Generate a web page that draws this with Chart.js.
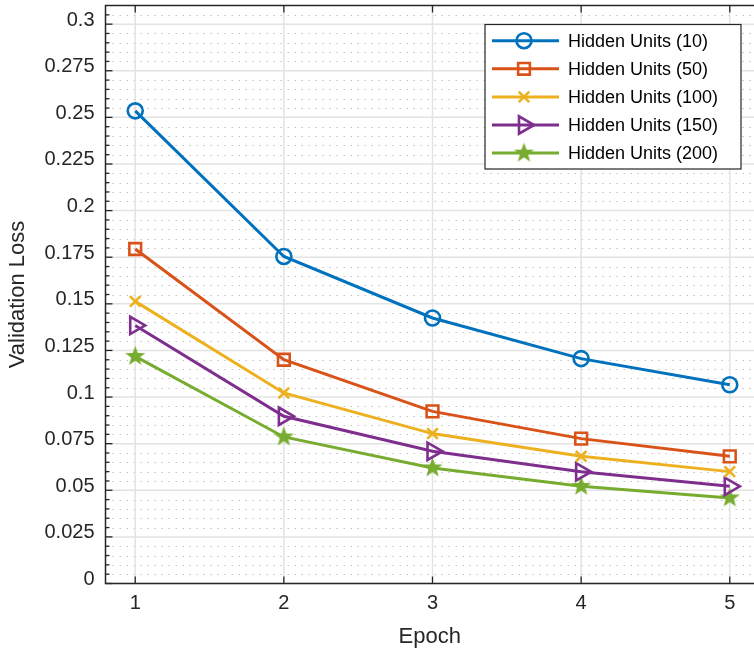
<!DOCTYPE html>
<html>
<head>
<meta charset="utf-8">
<script src="https://cdn.jsdelivr.net/npm/chart.js@4.4.1/dist/chart.umd.min.js"></script>
<style>
  html, body { margin: 0; padding: 0; background: #fff; overflow: hidden; }
  #wrap { width: 754px; height: 651px; position: relative; }
</style>
</head>
<body>
<div id="wrap"><canvas id="lossChart"></canvas></div>
<script>
// values
const epochs = [1, 2, 3, 4, 5];
const units10 = [0.2535, 0.1754, 0.1424, 0.1206, 0.1066];
const units50 = [0.1794, 0.1200, 0.0923, 0.0777, 0.0682];
const units100 = [0.1513, 0.1022, 0.0804, 0.0682, 0.0600];
const units150 = [0.1384, 0.0897, 0.0709, 0.0599, 0.0521];
const units200 = [0.1218, 0.0786, 0.0620, 0.0521, 0.0459];
const seriesLabels = ['Hidden Units (10)', 'Hidden Units (50)', 'Hidden Units (100)', 'Hidden Units (150)', 'Hidden Units (200)'];
const yTicks = [0, 0.025, 0.05, 0.075, 0.1, 0.125, 0.15, 0.175, 0.2, 0.225, 0.25, 0.275, 0.3];
const xTicks = [1, 2, 3, 4, 5];

const FONT = '"Liberation Sans", Arial, Helvetica, sans-serif';
const INK = '#262626';

// filled star marker (Chart.js 'star' is only an asterisk)
function makeStar(color, outer, inner) {
    const c = document.createElement('canvas');
    const s = Math.ceil(outer * 2 + 2);
    c.width = s; c.height = s;
    const g = c.getContext('2d');
    g.fillStyle = color;
    g.beginPath();
    for (let i = 0; i < 10; i++) {
        const r = i % 2 === 0 ? outer : inner;
        const a = -Math.PI / 2 + i * Math.PI / 5;
        const px = s / 2 + r * Math.cos(a), py = s / 2 + r * Math.sin(a);
        if (i === 0) g.moveTo(px, py); else g.lineTo(px, py);
    }
    g.closePath();
    g.fill();
    return c;
}

const starImg = makeStar('#77AC30', 10.5, 4.3);

const styles = [
    { color: '#0072BD', pointStyle: 'circle', radius: 7.5, rotation: 0 },
    { color: '#D95319', pointStyle: 'rect', radius: 8.3, rotation: 0 },
    { color: '#EDB120', pointStyle: 'crossRot', radius: 7.5, rotation: 0 },
    { color: '#7E2F8E', pointStyle: 'triangle', radius: 10, rotation: 90 },
    { color: '#77AC30', pointStyle: starImg, radius: 10, rotation: 0 }
];

const allSeries = [units10, units50, units100, units150, units200];

const datasets = allSeries.map(function (vals, i) {
    const st = styles[i];
    return {
        label: seriesLabels[i],
        data: epochs.map(function (e, j) { return { x: e, y: vals[j] }; }),
        borderColor: st.color,
        borderWidth: 3,
        pointStyle: st.pointStyle,
        pointRadius: st.radius,
        pointHoverRadius: st.radius,
        pointRotation: st.rotation,
        pointBorderColor: st.color,
        pointBackgroundColor: 'rgba(0,0,0,0)',
        pointBorderWidth: 2.6,
        tension: 0
    };
});

// grid, box, inward ticks and a matlab-like legend
const matlabAxes = {
    id: 'matlabAxes',
    beforeDatasetsDraw(chart) {
        const { ctx, chartArea: a, scales: { x, y } } = chart;
        ctx.save();
        // minor dotted grid
        ctx.strokeStyle = '#c4c4c4';
        ctx.lineWidth = 1;
        ctx.setLineDash([1.5, 5.5]);
        for (let k = 1; k * 0.005 < y.max; k++) {
            if (k % 5 === 0) continue;
            const py = Math.round(y.getPixelForValue(k * 0.005)) + 0.5;
            ctx.beginPath(); ctx.moveTo(a.left, py); ctx.lineTo(a.right, py); ctx.stroke();
        }
        ctx.setLineDash([]);
        // major grid
        ctx.strokeStyle = '#e3e3e3';
        ctx.lineWidth = 1.5;
        yTicks.forEach(function (v) {
            const py = y.getPixelForValue(v);
            ctx.beginPath(); ctx.moveTo(a.left, py); ctx.lineTo(a.right, py); ctx.stroke();
        });
        xTicks.forEach(function (v) {
            const px = x.getPixelForValue(v);
            ctx.beginPath(); ctx.moveTo(px, a.top); ctx.lineTo(px, a.bottom); ctx.stroke();
        });
        ctx.restore();
    },
    afterDatasetsDraw(chart) {
        const { ctx, chartArea: a, scales: { x, y } } = chart;
        ctx.save();
        ctx.strokeStyle = INK;
        ctx.lineWidth = 1.5;
        // box (right side is cut off in the reference)
        ctx.beginPath();
        ctx.moveTo(a.right, a.top); ctx.lineTo(a.left, a.top);
        ctx.lineTo(a.left, a.bottom); ctx.lineTo(a.right, a.bottom);
        ctx.stroke();
        // y ticks, major and minor
        ctx.lineWidth = 1.3;
        for (let k = 0; k * 0.005 < y.max; k++) {
            const py = y.getPixelForValue(k * 0.005);
            const len = k % 5 === 0 ? 7 : 4;
            ctx.beginPath(); ctx.moveTo(a.left, py); ctx.lineTo(a.left + len, py); ctx.stroke();
        }
        // x ticks, bottom and top
        xTicks.forEach(function (v) {
            const px = x.getPixelForValue(v);
            ctx.beginPath(); ctx.moveTo(px, a.bottom); ctx.lineTo(px, a.bottom - 7); ctx.stroke();
            ctx.beginPath(); ctx.moveTo(px, a.top); ctx.lineTo(px, a.top + 7); ctx.stroke();
        });

        // legend
        const lx = 485, ly = 24.5, lw = 256, lh = 144.5;
        ctx.fillStyle = '#fff';
        ctx.fillRect(lx, ly, lw, lh);
        ctx.strokeStyle = INK;
        ctx.lineWidth = 1.2;
        ctx.strokeRect(lx, ly, lw, lh);
        ctx.font = '18px ' + FONT;
        ctx.textBaseline = 'middle';
        ctx.textAlign = 'left';
        chart.data.datasets.forEach(function (ds, i) {
            const rowY = 40.7 + i * 28.1;
            ctx.strokeStyle = ds.borderColor;
            ctx.lineWidth = 3;
            ctx.beginPath(); ctx.moveTo(492, rowY); ctx.lineTo(559, rowY); ctx.stroke();
            ctx.fillStyle = 'rgba(0,0,0,0)';
            ctx.lineWidth = 2.6;
            Chart.helpers.drawPoint(ctx, {
                pointStyle: ds.pointStyle,
                rotation: ds.pointRotation,
                radius: ds.pointRadius,
                borderWidth: 2.6
            }, 524, rowY);
            ctx.fillStyle = '#000';
            ctx.fillText(ds.label, 568, rowY + 1);
        });
        ctx.restore();
    }
};

const ctx = document.getElementById('lossChart').getContext('2d');
const lossChart = new Chart(ctx, {
    type: 'line',
    data: { datasets: datasets },
    plugins: [matlabAxes],
    options: {
        responsive: true,
        maintainAspectRatio: false,
        animation: false,
        layout: { autoPadding: false, padding: { top: 5.5, left: 0, right: 0, bottom: 0 } },
        plugins: {
            legend: { display: false },
            tooltip: { enabled: false }
        },
        scales: {
            x: {
                type: 'linear',
                min: 0.8,
                max: 5.163,
                afterBuildTicks: function (scale) {
                    scale.ticks = xTicks.map(function (v) { return { value: v }; });
                },
                afterFit: function (scale) {
                    scale.height = 67.5;
                    scale.paddingLeft = 0;
                    scale.paddingRight = 0;
                },
                grid: { display: false, drawTicks: false },
                border: { display: false },
                ticks: {
                    padding: 8,
                    color: INK,
                    font: { family: FONT, size: 20 },
                    maxRotation: 0,
                    callback: function (v) { return String(v); }
                },
                title: {
                    display: true,
                    text: 'Epoch',
                    color: INK,
                    font: { family: FONT, size: 22 },
                    padding: { top: 0, bottom: 1 }
                }
            },
            y: {
                type: 'linear',
                min: 0,
                max: 0.31,
                afterBuildTicks: function (scale) {
                    scale.ticks = yTicks.map(function (v) { return { value: v }; });
                },
                afterFit: function (scale) {
                    scale.width = 105.5;
                    scale.paddingTop = 0;
                    scale.paddingBottom = 0;
                },
                grid: { display: false, drawTicks: false },
                border: { display: false },
                ticks: {
                    padding: 11,
                    labelOffset: -4,
                    color: INK,
                    font: { family: FONT, size: 20 },
                    callback: function (v) { return String(+(+v).toFixed(3)); }
                },
                title: {
                    display: true,
                    text: 'Validation Loss',
                    color: INK,
                    font: { family: FONT, size: 22 },
                    padding: { top: 5, bottom: 0 }
                }
            }
        }
    }
});
</script>
</body>
</html>
